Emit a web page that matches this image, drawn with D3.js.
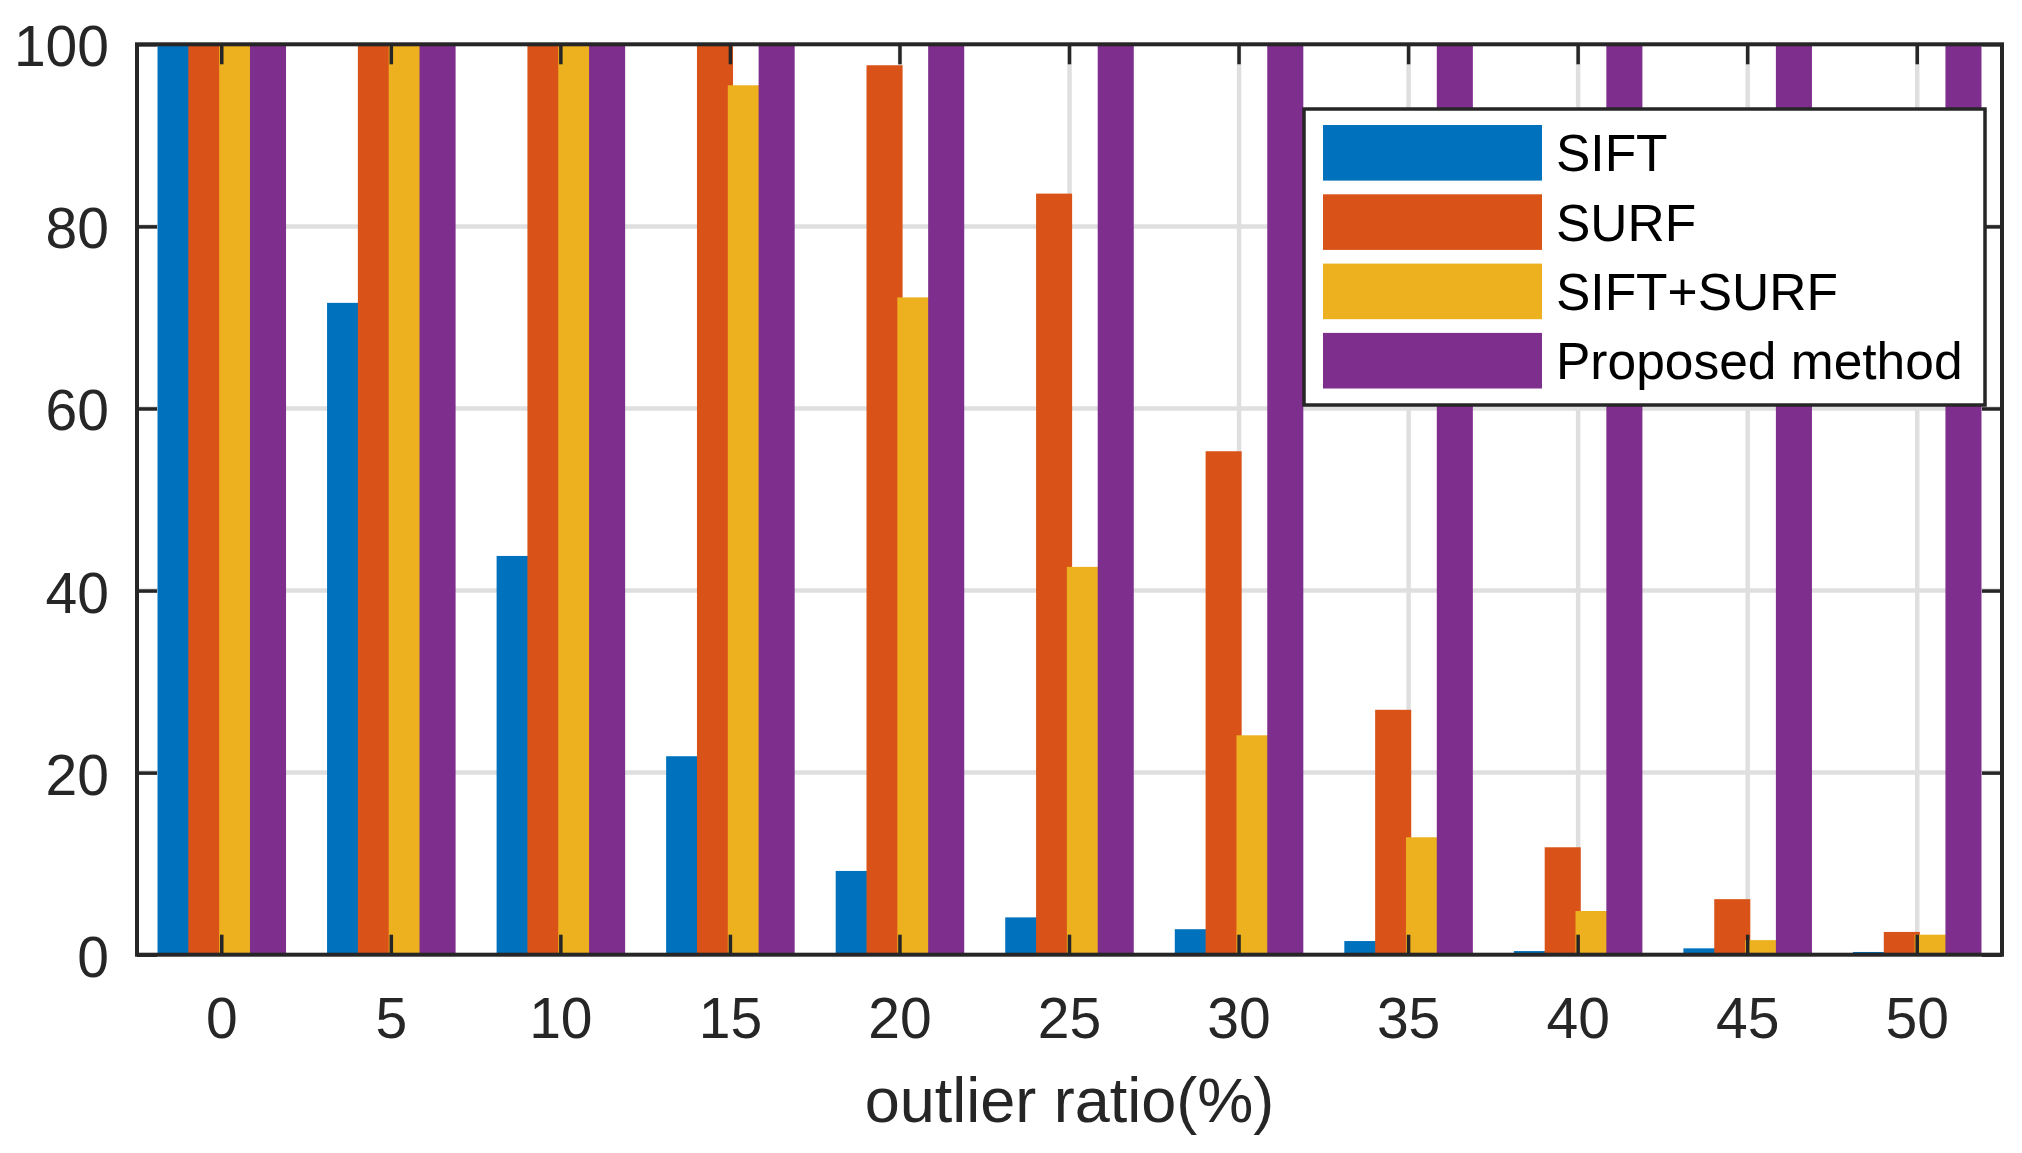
<!DOCTYPE html>
<html>
<head>
<meta charset="utf-8">
<script src="https://cdn.jsdelivr.net/npm/d3@7"></script>
<style>
  html, body { margin: 0; padding: 0; background: #fff; }
  svg { display: block; }
</style>
</head>
<body>
<svg id="chart" width="2022" height="1153"></svg>
<script>
// ---- data ----
const categories = ["0", "5", "10", "15", "20", "25", "30", "35", "40", "45", "50"];
const seriesNames = ["SIFT", "SURF", "SIFT+SURF", "Proposed method"];
const siftValues = [100, 71.6, 43.8, 21.8, 9.2, 4.1, 2.8, 1.5, 0.4, 0.7, 0.3];
const surfValues = [100, 100, 100, 100, 97.7, 83.6, 55.3, 26.9, 11.8, 6.1, 2.5];
const siftSurfValues = [100, 100, 100, 95.5, 72.2, 42.6, 24.1, 12.9, 4.8, 1.6, 2.2];
const proposedValues = [100, 100, 100, 100, 100, 100, 100, 100, 100, 100, 100];
const yTicks = [0, 20, 40, 60, 80, 100];
const xTitle = "outlier ratio(%)";

const seriesColors = ["#0072BD", "#D95319", "#EDB120", "#7E2F8E"];
const seriesValues = [siftValues, surfValues, siftSurfValues, proposedValues];

// ---- layout ----
const L = 137, R = 2002, T = 44.3, B = 954.7;
const axisColor = "#262626";
const font = "'Liberation Sans', Arial, Helvetica, sans-serif";

const svg = d3.select("#chart");

const x = d3.scaleBand().domain(categories).range([L, R]).paddingInner(0).paddingOuter(0);
const y = d3.scaleLinear().domain([0, 100]).range([B, T]);
const bw = x.bandwidth();
const offsets = [-0.2727, -0.0909, 0.0909, 0.2727];
const barW = 0.2127 * bw;

// gridlines (behind bars)
const grid = svg.append("g");
grid.selectAll("line.h").data(yTicks.filter(v => v > 0 && v < 100)).enter().append("line")
  .attr("x1", L).attr("x2", R)
  .attr("y1", d => y(d)).attr("y2", d => y(d))
  .attr("stroke", "#dfdfdf").attr("stroke-width", 4.5);
grid.selectAll("line.v").data(categories).enter().append("line")
  .attr("x1", d => x(d) + bw / 2).attr("x2", d => x(d) + bw / 2)
  .attr("y1", T).attr("y2", B)
  .attr("stroke", "#dfdfdf").attr("stroke-width", 4.5);

// bars
seriesValues.forEach((vals, s) => {
  svg.append("g").selectAll("rect").data(vals).enter().append("rect")
    .attr("x", (d, i) => x(categories[i]) + bw / 2 + offsets[s] * bw - barW / 2)
    .attr("width", barW)
    .attr("y", d => y(d))
    .attr("height", d => y(0) - y(d))
    .attr("fill", seriesColors[s]);
});

// axes
const tickLen = 20;
function styleAxis(g) {
  g.select(".domain").remove();
  g.selectAll(".tick line").attr("stroke", axisColor).attr("stroke-width", 3.5);
  g.selectAll(".tick text").attr("fill", axisColor).attr("font-family", font).attr("font-size", 57);
}

const xAxis = svg.append("g").attr("transform", `translate(0,${B})`)
  .call(d3.axisBottom(x).tickSize(-tickLen).tickSizeOuter(0));
styleAxis(xAxis);
xAxis.selectAll(".tick text").attr("dy", null).attr("y", 83.3);

const xAxisTop = svg.append("g").attr("transform", `translate(0,${T})`)
  .call(d3.axisTop(x).tickSize(-tickLen).tickSizeOuter(0).tickFormat(""));
styleAxis(xAxisTop);

const yAxis = svg.append("g").attr("transform", `translate(${L},0)`)
  .call(d3.axisLeft(y).tickValues(yTicks).tickSize(-tickLen).tickSizeOuter(0));
styleAxis(yAxis);
yAxis.selectAll(".tick text").attr("dy", null).attr("x", -28).attr("y", 21.5).attr("text-anchor", "end");

const yAxisRight = svg.append("g").attr("transform", `translate(${R},0)`)
  .call(d3.axisRight(y).tickValues(yTicks).tickSize(-tickLen).tickSizeOuter(0).tickFormat(""));
styleAxis(yAxisRight);

// box
svg.append("rect").attr("x", L).attr("y", T).attr("width", R - L).attr("height", B - T)
  .attr("fill", "none").attr("stroke", axisColor).attr("stroke-width", 4);

// x title
svg.append("text").attr("x", (L + R) / 2).attr("y", 1122)
  .attr("text-anchor", "middle").attr("font-family", font).attr("font-size", 63)
  .attr("fill", axisColor).text(xTitle);

// legend
const lg = svg.append("g");
lg.append("rect").attr("x", 1304).attr("y", 109).attr("width", 1985 - 1304).attr("height", 405 - 109)
  .attr("fill", "#fff").attr("stroke", axisColor).attr("stroke-width", 3.5);
const rowTop = 125, rowStep = 69.3, swH = 55.6;
seriesNames.forEach((name, i) => {
  lg.append("rect").attr("x", 1323).attr("y", rowTop + i * rowStep)
    .attr("width", 219).attr("height", swH).attr("fill", seriesColors[i]);
  lg.append("text").attr("x", 1556).attr("y", rowTop + i * rowStep + swH / 2 + 18.5)
    .attr("font-family", font).attr("font-size", 51.5).attr("fill", "#000").text(name);
});
</script>
</body>
</html>
